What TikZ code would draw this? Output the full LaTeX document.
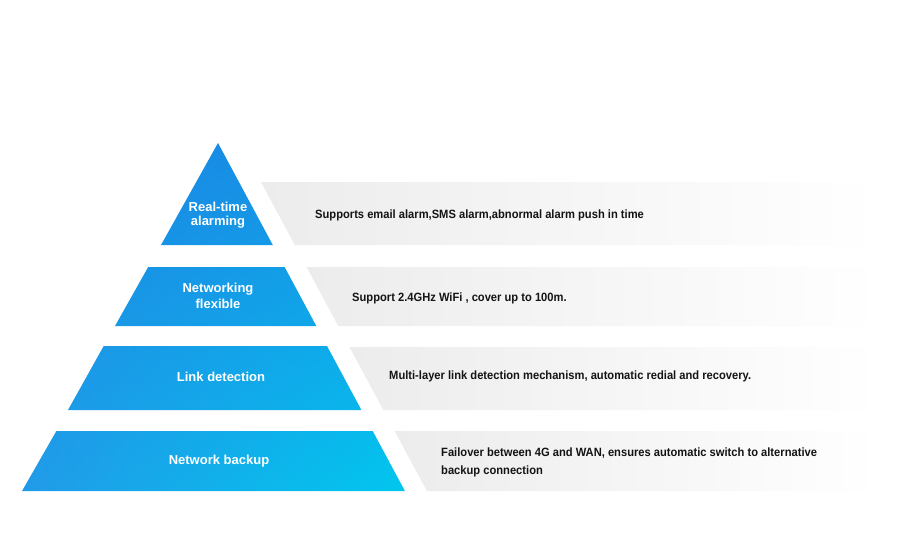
\documentclass[tikz,border=0pt]{standalone}
\usepackage{fontspec}
\usetikzlibrary{shadings}
\setmainfont{Liberation Sans}
\newfontfamily\descfont[FakeStretch=0.93]{Liberation Sans}
\definecolor{pyrUL}{HTML}{1A86E2}
\definecolor{pyrUR}{HTML}{1690E6}
\definecolor{pyrLL}{HTML}{229BE8}
\definecolor{pyrLR}{HTML}{00C8EE}
\definecolor{bandgrey}{HTML}{ECECEC}
\definecolor{bandmid}{HTML}{F4F4F4}
\definecolor{desctext}{HTML}{141414}
\tikzset{
  layerlabel/.style={text=white, font=\fontsize{13}{14}\selectfont\bfseries, align=center, inner sep=0pt},
  desclabel/.style={text=desctext, font=\descfont\fontsize{12}{18}\selectfont\bfseries, align=left, anchor=west, inner sep=0pt},
  band/.style={left color=bandgrey, middle color=bandmid, right color=white, draw=none},
}
\begin{document}
\begin{tikzpicture}[x=1pt, y=-1pt]
\useasboundingbox (0,0) rectangle (900,546);
\fill[white] (0,0) rectangle (900,546);
% grey bands
\shade[band] (261,182) -- (294.8,245) -- (880,245) -- (880,182) -- cycle;
\shade[band] (306.6,267) -- (338.3,326) -- (880,326) -- (880,267) -- cycle;
\shade[band] (349.5,347) -- (383.4,410) -- (880,410) -- (880,347) -- cycle;
\shade[band] (394.7,431) -- (426.9,491) -- (880,491) -- (880,431) -- cycle;
% pyramid layers
\begin{scope}
\clip (218,143) -- (272.8,245) -- (161,245) -- cycle
      (148.2,267) -- (284.6,267) -- (316.3,326) -- (115,326) -- cycle
      (103.7,346) -- (327,346) -- (361.4,410) -- (68,410) -- cycle
      (56.4,431) -- (372.7,431) -- (404.9,491) -- (22,491) -- cycle;
\shade[upper left=pyrUL, upper right=pyrUR, lower left=pyrLL, lower right=pyrLR] (20,140) rectangle (410,495);
\end{scope}
% layer labels
\node[layerlabel] (l1) at (218,215) {Real-time\\alarming};
\node[layerlabel] (l2) at (218,296) {Networking\\[2pt]flexible};
\node[layerlabel] (l3) at (221,377) {Link detection};
\node[layerlabel] (l4) at (219,461) {Network backup};
% descriptions
\node[desclabel] (d1) at (315,215) {Supports email alarm,SMS alarm,abnormal alarm push in time};
\node[desclabel] (d2) at (352,298) {Support 2.4GHz WiFi , cover up to 100m.};
\node[desclabel] (d3) at (389,376) {Multi-layer link detection mechanism, automatic redial and recovery.};
\node[desclabel] (d4) at (441,462) {Failover between 4G and WAN, ensures automatic switch to alternative\\backup connection};
\end{tikzpicture}
\end{document}
